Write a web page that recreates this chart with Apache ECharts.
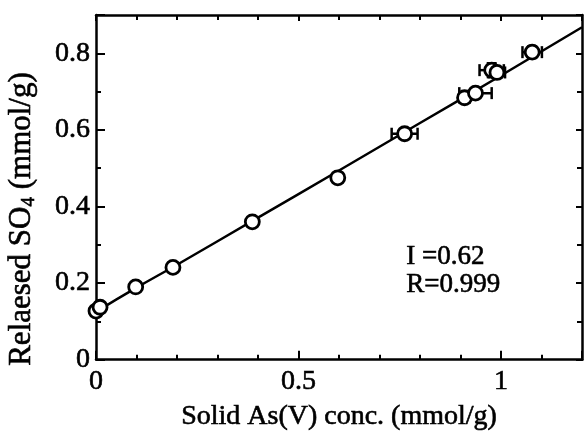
<!DOCTYPE html>
<html>
<head>
<meta charset="utf-8">
<script src="https://cdn.jsdelivr.net/npm/echarts@6/dist/echarts.min.js"></script>
<style>
  html, body { margin: 0; padding: 0; background: #fff; }
  #chart { width: 585px; height: 436px; }
</style>
</head>
<body>
<div id="chart"></div>
<script>
// measured points: solid As(V) conc. vs released SO4 (mmol/g)
const asConc      = [0, 0.01, 0.098, 0.19, 0.386, 0.597, 0.762, 0.91, 0.937, 0.977, 0.99, 1.077];
const so4Released = [0.127, 0.137, 0.19, 0.241, 0.36, 0.475, 0.59, 0.684, 0.696, 0.756, 0.75, 0.803];
const asErr       = [0, 0, 0, 0, 0, 0.008, 0.032, 0.012, 0.04, 0.03, 0.02, 0.024];
const so4Err      = [0, 0, 0, 0, 0, 0, 0.005, 0.01, 0.01, 0.018, 0.01, 0.015];

// fitted line
const fitX = [0, 0.1, 0.2, 0.4, 0.6, 0.8, 1.0, 1.2];
const fitY = [0.125, 0.188, 0.248, 0.371, 0.494, 0.618, 0.742, 0.868];

const annotations = ['I =0.62', 'R=0.999'];

const FONT = '"Liberation Serif", "Times New Roman", serif';
const black = '#000';
const heavy = { textBorderColor: black, textBorderWidth: 0.6 };   // echarts label style
const heavyG = { stroke: black, lineWidth: 0.6 };                  // zrender graphic style

const points = asConc.map((x, i) => [x, so4Released[i], asErr[i], so4Err[i]]);
const fitLine = fitX.map((x, i) => [x, fitY[i]]);

const chart = echarts.init(document.getElementById('chart'), null, { renderer: 'canvas' });

const axisCommon = {
  type: 'value',
  axisLine: { show: true, onZero: false, lineStyle: { color: black, width: 2.5 } },
  axisTick: { show: true, inside: true, length: 9, lineStyle: { color: black, width: 2 } },
  minorTick: { show: true, splitNumber: 5, length: 5, lineStyle: { color: black, width: 2 } },
  splitLine: { show: false },
  axisLabel: Object.assign({ color: black, fontFamily: FONT, fontSize: 28 }, heavy),
};

function errorBars(params, api) {
  const x = api.value(0), y = api.value(1), ex = api.value(2), ey = api.value(3);
  const kids = [];
  const style = { stroke: black, lineWidth: 2.5 };
  if (ex > 0) {
    const l = api.coord([x - ex, y]), r = api.coord([x + ex, y]);
    kids.push({ type: 'line', shape: { x1: l[0], y1: l[1], x2: r[0], y2: r[1] }, style });
    kids.push({ type: 'line', shape: { x1: l[0], y1: l[1] - 6, x2: l[0], y2: l[1] + 6 }, style });
    kids.push({ type: 'line', shape: { x1: r[0], y1: r[1] - 6, x2: r[0], y2: r[1] + 6 }, style });
  }
  if (ey > 0) {
    const t = api.coord([x, y + ey]), b = api.coord([x, y - ey]);
    kids.push({ type: 'line', shape: { x1: t[0], y1: t[1], x2: b[0], y2: b[1] }, style });
    kids.push({ type: 'line', shape: { x1: t[0] - 5, y1: t[1], x2: t[0] + 5, y2: t[1] }, style });
    kids.push({ type: 'line', shape: { x1: b[0] - 5, y1: b[1], x2: b[0] + 5, y2: b[1] }, style });
  }
  return { type: 'group', children: kids };
}

chart.setOption({
  animation: false,
  backgroundColor: '#fff',
  grid: { left: 96, right: 3, top: 15, bottom: 66 },
  xAxis: [
    Object.assign({}, axisCommon, {
      position: 'bottom', min: 0, max: 1.2, interval: 0.5,
      axisLabel: Object.assign({}, axisCommon.axisLabel, { margin: 8, showMaxLabel: false }),
      name: 'Solid As(V) conc. (mmol/g)',
      nameLocation: 'middle', nameGap: 43,
      nameTextStyle: Object.assign({ color: black, fontFamily: FONT, fontSize: 28 }, heavy),
    }),
    Object.assign({}, axisCommon, {
      position: 'top', min: 0, max: 1.2, interval: 0.5,
      axisTick: Object.assign({}, axisCommon.axisTick, { length: 6 }),
      axisLabel: { show: false },
    }),
  ],
  yAxis: [
    Object.assign({}, axisCommon, {
      position: 'left', min: 0, max: 0.9, interval: 0.2,
      minorTick: Object.assign({}, axisCommon.minorTick, { splitNumber: 2 }),
      axisLabel: Object.assign({}, axisCommon.axisLabel, { margin: 6, showMaxLabel: false }),
    }),
    Object.assign({}, axisCommon, {
      position: 'right', min: 0, max: 0.9, interval: 0.2,
      minorTick: Object.assign({}, axisCommon.minorTick, { splitNumber: 2 }),
      axisTick: Object.assign({}, axisCommon.axisTick, { length: 6 }),
      axisLabel: { show: false },
    }),
  ],
  series: [
    {
      type: 'line', data: fitLine, smooth: true, showSymbol: false,
      lineStyle: { color: black, width: 2.5 }, z: 2,
    },
    {
      type: 'custom', data: points, renderItem: errorBars, z: 3,
      encode: { x: 0, y: 1 },
    },
    {
      type: 'scatter', data: points, symbol: 'circle', symbolSize: 14,
      itemStyle: { color: '#fff', borderColor: black, borderWidth: 2.8, opacity: 1 },
      z: 4,
    },
  ],
  graphic: [
    {
      type: 'text', x: 22, y: 219, rotation: Math.PI / 2,
      style: {
        text: '{a|Relaesed SO}{s|4}{a| (mmol/g)}',
        align: 'center', verticalAlign: 'middle',
        rich: {
          a: Object.assign({ fill: black, fontFamily: FONT, fontSize: 31, lineHeight: 33 }, heavyG),
          s: Object.assign({ fill: black, fontFamily: FONT, fontSize: 19, lineHeight: 20, verticalAlign: 'bottom' }, heavyG),
        },
      },
    },
    { type: 'text', left: 406, top: 243, style: Object.assign({ text: annotations[0], font: '27px ' + FONT, fill: black }, heavyG) },
    { type: 'text', left: 406, top: 271, style: Object.assign({ text: annotations[1], font: '27px ' + FONT, fill: black }, heavyG) },
  ],
});
</script>
</body>
</html>
